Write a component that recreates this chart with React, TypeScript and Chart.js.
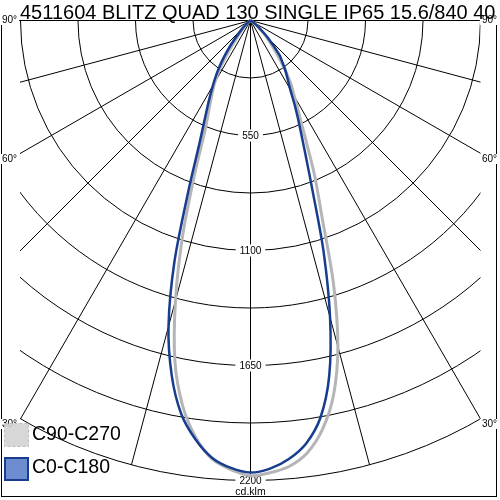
import React, { useEffect, useRef } from "react";
import { Chart, registerables } from "chart.js";

Chart.register(...registerables);

// ---- Data (cd/klm), gamma in degrees (0 = straight down) ----
const GAMMA = [0, 2.5, 5, 7.5, 10, 12.5, 15, 17.5, 20, 22.5, 25, 27.5, 30, 32.5, 35, 37.5, 40, 45, 50, 60, 70, 80, 90];

// C0-C180 (blue)
const C0_RIGHT = [2162, 2145, 2105, 2040, 1928, 1740, 1470, 1165, 870, 680, 555, 460, 380, 330, 290, 250, 215, 120, 50, 15, 5, 1, 0];
const C180_LEFT = [2162, 2142, 2100, 2020, 1910, 1740, 1515, 1210, 870, 640, 515, 430, 360, 300, 240, 180, 125, 60, 25, 8, 2, 0, 0];

// C90-C270 (grey)
const C90_RIGHT = [2177, 2165, 2140, 2085, 1985, 1835, 1615, 1320, 1000, 800, 620, 500, 420, 360, 292, 220, 169, 100, 45, 12, 4, 1, 0];
const C270_LEFT = [2177, 2150, 2105, 2010, 1870, 1670, 1386, 1080, 780, 570, 470, 400, 340, 270, 190, 120, 80, 40, 20, 5, 2, 0, 0];

const RINGS = [275, 550, 825, 1100, 1375, 1650, 1925, 2200];
const RING_LABELS = [550, 1100, 1650, 2200];
const SPOKES = [-90, -75, -60, -45, -30, -15, 0, 15, 30, 45, 60, 75, 90];
const ANGLE_LABELS = ["90°", "60°", "30°"];
const SERIES_NAMES = ["C90-C270", "C0-C180"];
const TITLE = "4511604 BLITZ QUAD 130 SINGLE IP65 15.6/840 40";
const UNIT = "cd.klm";
const MAX_VALUE = 2200;

const FONT = '"Liberation Sans", Arial, sans-serif';
const BLUE = "#173d8e";
const GREY = "#b5b5b9";

function toXY(value: number, deg: number, side: number) {
  const a = (deg * Math.PI) / 180;
  return { x: side * value * Math.sin(a), y: -value * Math.cos(a) };
}

function buildCurve(left: number[], right: number[]) {
  const pts: { x: number; y: number }[] = [];
  for (let i = GAMMA.length - 1; i >= 0; i--) pts.push(toXY(left[i], GAMMA[i], -1));
  for (let i = 1; i < GAMMA.length; i++) pts.push(toXY(right[i], GAMMA[i], 1));
  return pts;
}

const K = 460 / MAX_VALUE; // px per unit

const gridPlugin = {
  id: "polarGrid",
  beforeDatasetsDraw(chart: any) {
    const { ctx } = chart;
    const sx = chart.scales.x;
    const sy = chart.scales.y;
    const cx = sx.getPixelForValue(0);
    const cy = sy.getPixelForValue(0);
    ctx.save();
    ctx.fillStyle = "#fff";
    ctx.fillRect(0, 0, chart.width, chart.height);
    ctx.strokeStyle = "#000";
    ctx.lineWidth = 1;
    // frame
    ctx.strokeRect(1.5, 20.5, 495, 476);
    ctx.save();
    ctx.beginPath();
    ctx.rect(20, 20, 460.5, 480);
    ctx.clip();
    for (const v of RINGS) {
      const r = sx.getPixelForValue(v) - cx;
      ctx.beginPath();
      ctx.arc(cx, cy, r, 0, Math.PI);
      ctx.stroke();
    }
    for (const s of SPOKES) {
      const p = toXY(MAX_VALUE, Math.abs(s), s < 0 ? -1 : 1);
      ctx.beginPath();
      ctx.moveTo(cx, cy);
      ctx.lineTo(sx.getPixelForValue(p.x), sy.getPixelForValue(p.y));
      ctx.stroke();
    }
    ctx.restore();

    // ring labels
    ctx.font = `10px ${FONT}`;
    ctx.textAlign = "center";
    ctx.textBaseline = "middle";
    for (const v of RING_LABELS) {
      const py = sy.getPixelForValue(-v);
      const w = ctx.measureText(String(v)).width;
      ctx.fillStyle = "#fff";
      ctx.fillRect(cx - w / 2 - 4, py - 6, w + 8, 12);
      ctx.fillStyle = "#000";
      ctx.fillText(String(v), cx, py + 1);
    }
    ctx.font = `10.5px ${FONT}`;
    ctx.fillStyle = "#fff";
    const uw = ctx.measureText(UNIT).width;
    ctx.fillRect(cx - uw / 2 - 2, 487, uw + 4, 9);
    ctx.fillStyle = "#000";
    ctx.fillText(UNIT, cx, 492);

    // angle labels
    ctx.font = `10px ${FONT}`;
    const ys = [20, 159, 424];
    ANGLE_LABELS.forEach((t, i) => {
      const w = ctx.measureText(t).width;
      ctx.fillStyle = "#fff";
      ctx.fillRect(1, ys[i] - 5, w + 3, 10);
      ctx.fillRect(497 - w - 2, ys[i] - 5, w + 3, 10);
      ctx.fillStyle = "#000";
      ctx.textAlign = "left";
      ctx.fillText(t, 2, ys[i]);
      ctx.textAlign = "right";
      ctx.fillText(t, 497, ys[i]);
    });
    ctx.restore();
  },
  afterDraw(chart: any) {
    const { ctx } = chart;
    ctx.save();
    // title
    ctx.font = `20px ${FONT}`;
    ctx.fillStyle = "#000";
    ctx.textAlign = "left";
    ctx.textBaseline = "alphabetic";
    ctx.fillText(TITLE, 20, 19);

    // legend
    ctx.globalAlpha = 0.9;
    ctx.fillStyle = "#d3d3d3";
    ctx.fillRect(4.5, 423.5, 24, 23);
    ctx.globalAlpha = 1;
    ctx.setLineDash([3, 2]);
    ctx.strokeStyle = "#bcbcbc";
    ctx.lineWidth = 1;
    ctx.strokeRect(4.5, 423.5, 24, 23);
    ctx.setLineDash([]);
    ctx.fillStyle = "#6d8dd0";
    ctx.fillRect(5, 458, 23, 22);
    ctx.strokeStyle = BLUE;
    ctx.lineWidth = 2;
    ctx.strokeRect(5, 458, 23, 22);

    ctx.fillStyle = "#000";
    ctx.font = `19.5px ${FONT}`;
    ctx.textBaseline = "middle";
    ctx.fillText(SERIES_NAMES[0], 32, 435);
    ctx.fillText(SERIES_NAMES[1], 32, 468);
    ctx.restore();
  },
};

export default function App() {
  const ref = useRef<HTMLCanvasElement | null>(null);
  useEffect(() => {
    if (!ref.current) return;
    const chart = new Chart(ref.current, {
      type: "scatter",
      data: {
        datasets: [
          {
            label: SERIES_NAMES[1],
            data: buildCurve(C180_LEFT, C0_RIGHT),
            showLine: true,
            borderColor: BLUE,
            borderWidth: 2.5,
            pointRadius: 0,
            tension: 0.3,
            fill: false,
          },
          {
            label: SERIES_NAMES[0],
            data: buildCurve(C270_LEFT, C90_RIGHT),
            showLine: true,
            borderColor: GREY,
            borderWidth: 3,
            pointRadius: 0,
            tension: 0.3,
            fill: false,
          },
        ],
      },
      options: {
        responsive: false,
        animation: false,
        layout: { padding: 0 },
        plugins: { legend: { display: false }, title: { display: false }, tooltip: { enabled: false } },
        scales: {
          x: { type: "linear", display: false, min: -250.5 / K, max: 249.5 / K },
          y: { type: "linear", display: false, min: -479.5 / K, max: 20.5 / K },
        },
      },
      plugins: [gridPlugin],
    });
    return () => chart.destroy();
  }, []);
  return (
    <div style={{ position: "absolute", left: 0, top: 0, width: 500, height: 500, background: "#fff" }}>
      <canvas ref={ref} width={500} height={500} />
    </div>
  );
}
